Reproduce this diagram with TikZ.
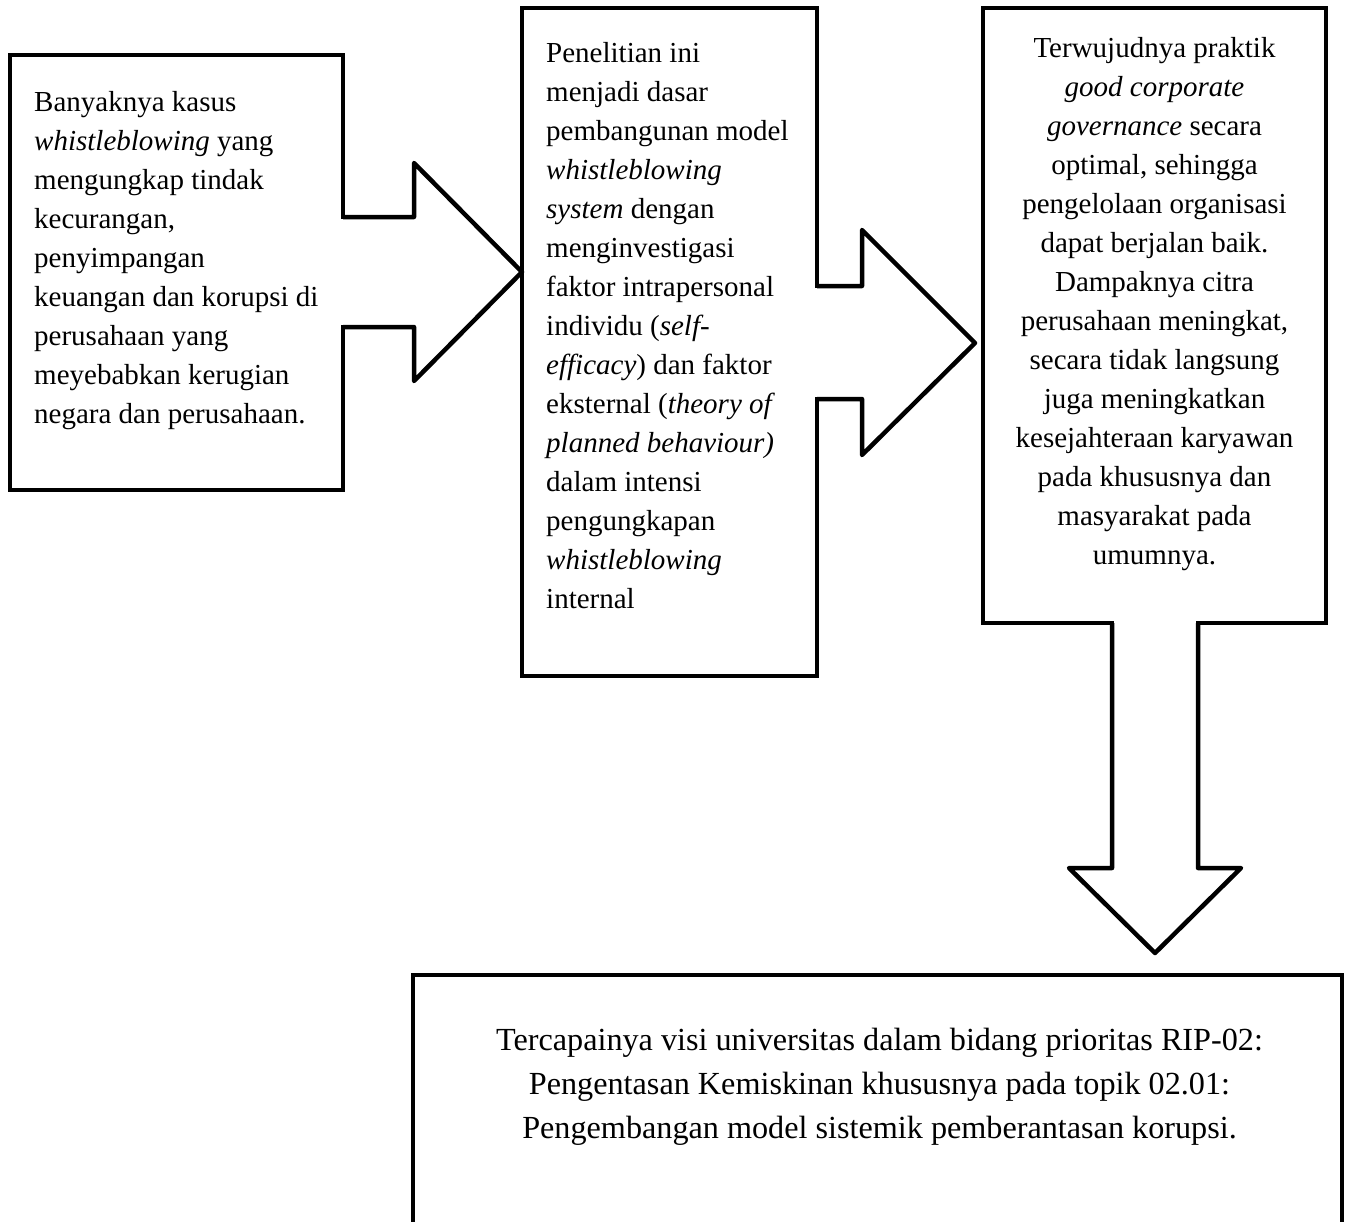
\documentclass[tikz,border=0pt]{standalone}
\usepackage{fontspec}
\setmainfont{Liberation Serif}
\usetikzlibrary{calc}
\begin{document}
\begin{tikzpicture}[x=1pt,y=-1pt,
  boxnode/.style={draw=black, line width=4.5pt, inner sep=0pt, outer sep=0pt, anchor=north west},
  blockarrow/.style={draw=black, line width=4.5pt, line join=round},
  cover/.style={fill=white},
  txtl/.style={inner sep=0pt, anchor=base west, font=\fontsize{29}{39}\selectfont},
  txtc/.style={inner sep=0pt, anchor=base, font=\fontsize{29}{39}\selectfont},
  txtbig/.style={inner sep=0pt, anchor=base, font=\fontsize{32.2}{44}\selectfont},
]
\useasboundingbox (0,0) rectangle (1354,1221);
\clip (0,0) rectangle (1354,1221);

% boxes
\node[boxnode, minimum width=333pt, minimum height=435pt] (b1) at (10,55) {};
\node[boxnode, minimum width=295pt, minimum height=668pt] (b2) at (522,8) {};
\node[boxnode, minimum width=343pt, minimum height=615pt] (b3) at (983,8) {};
\node[boxnode, minimum width=929pt, minimum height=300pt] (b4) at (413,975) {};

% arrow 1 : b1 -> b2
\coordinate (a1t) at (b1.east |- 0,217);
\coordinate (a1b) at (b1.east |- 0,327);
\coordinate (a1tip) at (b2.west |- 0,272);
\fill[cover] ($(a1t)+(-3,2.3)$) rectangle ($(a1b)+(3,-2.3)$);
\draw[blockarrow] (a1t) -- (414,217) -- (414,163) -- (a1tip) -- (414,381) -- (414,327) -- (a1b);

% arrow 2 : b2 -> b3
\coordinate (a2t) at (b2.east |- 0,286);
\coordinate (a2b) at (b2.east |- 0,399);
\coordinate (a2tip) at ($(b3.west |- 0,343)+(-8,0)$);
\fill[cover] ($(a2t)+(-3,2.3)$) rectangle ($(a2b)+(3,-2.3)$);
\draw[blockarrow] (a2t) -- (862,286) -- (862,230) -- (a2tip) -- (862,455) -- (862,399) -- (a2b);

% arrow 3 : b3 -> b4
\coordinate (a3l) at (1112,0 |- b3.south);
\coordinate (a3r) at (1198,0 |- b3.south);
\coordinate (a3tip) at ($(1155,0 |- b4.north)+(0,-22)$);
\fill[cover] ($(a3l)+(2.3,-3)$) rectangle ($(a3r)+(-2.3,3)$);
\draw[blockarrow] (a3l) -- (1112,868) -- (1069,868) -- (a3tip) -- (1241,868) -- (1198,868) -- (a3r);

% texts
\node[txtl] (t1) at ($(b1.north west)+(24,56)$) {\begin{tabular}[t]{@{}l@{}}
Banyaknya kasus\\
\textit{whistleblowing} yang\\
mengungkap tindak\\
kecurangan,\\
penyimpangan\\
keuangan dan korupsi di\\
perusahaan yang\\
meyebabkan kerugian\\
negara dan perusahaan.
\end{tabular}};

\node[txtl] (t2) at ($(b2.north west)+(24,54)$) {\begin{tabular}[t]{@{}l@{}}
Penelitian ini\\
menjadi dasar\\
pembangunan model\\
\textit{whistleblowing}\\
\textit{system} dengan\\
menginvestigasi\\
faktor intrapersonal\\
individu (\textit{self-}\\
\textit{efficacy}) dan faktor\\
eksternal (\textit{theory of}\\
\textit{planned behaviour)}\\
dalam intensi\\
pengungkapan\\
\textit{whistleblowing}\\
internal
\end{tabular}};

\node[txtc] (t3) at ($(b3.north)+(0,49)$) {\begin{tabular}[t]{@{}c@{}}
Terwujudnya praktik\\
\textit{good corporate}\\
\textit{governance} secara\\
optimal, sehingga\\
pengelolaan organisasi\\
dapat berjalan baik.\\
Dampaknya citra\\
perusahaan meningkat,\\
secara tidak langsung\\
juga meningkatkan\\
kesejahteraan karyawan\\
pada khususnya dan\\
masyarakat pada\\
umumnya.
\end{tabular}};

\node[txtbig] (t4) at ($(b4.north)+(2,75)$) {\begin{tabular}[t]{@{}c@{}}
Tercapainya visi universitas dalam bidang prioritas RIP-02:\\
Pengentasan Kemiskinan khususnya pada topik 02.01:\\
Pengembangan model sistemik pemberantasan korupsi.
\end{tabular}};
\end{tikzpicture}
\end{document}
